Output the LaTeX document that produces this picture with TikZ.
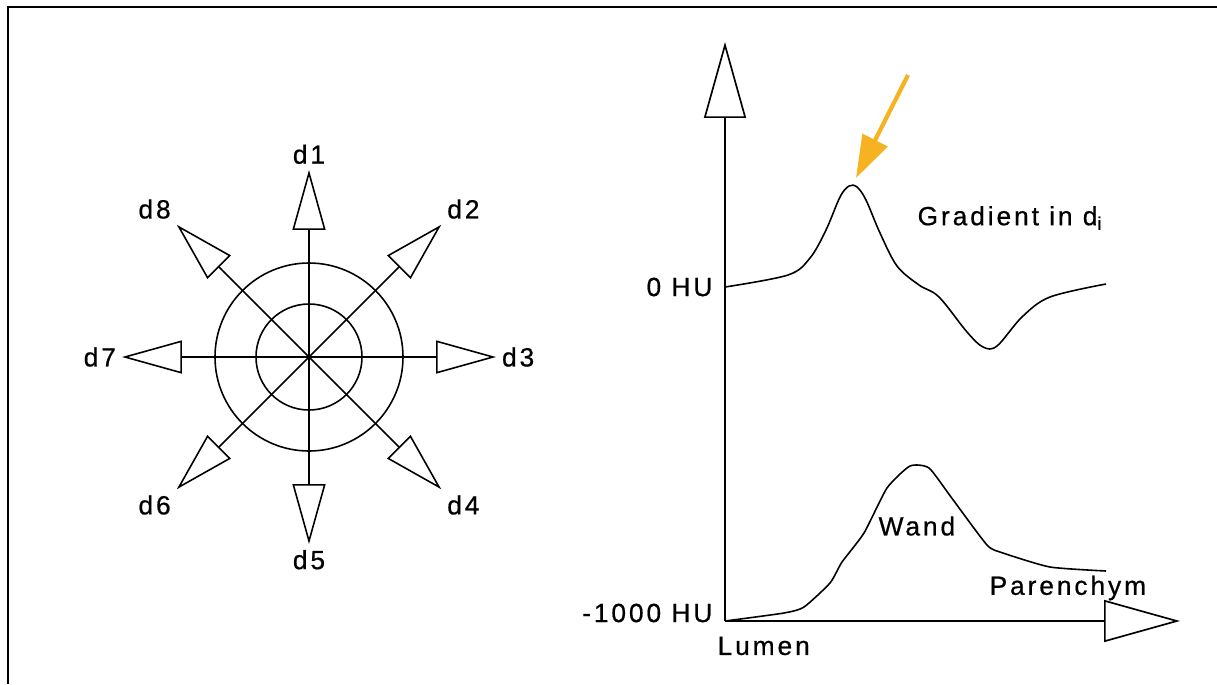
\documentclass[tikz,border=0pt]{standalone}
\usepackage{fontspec}
\setmainfont{Liberation Sans}[LetterSpace=11, FakeBold=0.6]
\usetikzlibrary{arrows.meta,calc}

\definecolor{markorange}{RGB}{246,178,32}

\begin{document}
\begin{tikzpicture}[x=0.02cm, y=-0.02cm,
    lbl/.style={inner sep=3pt, font=\fontsize{15}{18}\selectfont},
    dirarrow/.style={line width=0.9pt, -{Triangle[open, length=1.2cm, width=0.66cm]}},
    axisarrow/.style={line width=0.95pt, -{Triangle[open, length=1.52cm, width=0.84cm]}},
    curve/.style={line width=0.9pt, smooth, tension=0.55}]
            \useasboundingbox (0,0) rectangle (1217,684);
            \draw[line width=1.4pt] (8,684) -- (8,7) -- (1217,7);

            % directions
            \coordinate (C) at (309,357);
            \draw[line width=0.9pt] (C) circle (94);
            \draw[line width=0.9pt] (C) circle (53);
            \foreach \a/\d/\anc in {-90/1/south, -45/2/south west, 0/3/west, 45/4/north west,
                                    90/5/north, 135/6/north east, 180/7/east, 225/8/south east} {
                \draw[dirarrow] (C) -- ++(\a:187) coordinate (t\d)
                    node[lbl, anchor=\anc] (d\d) {d\d};
            }

            % profiles
            \coordinate (O) at (725,621);
            \coordinate (Ytop) at (725,42);
            \coordinate (Xend) at (1180,621);
            \draw[axisarrow] (O) -- (Ytop);
            \draw[axisarrow] (O) -- (Xend);

            \draw[curve] plot coordinates {(725,287) (788,275) (810,258) (826,230) (840,197)
                (849,186) (857,187) (866,200) (880,233) (897,266) (919,285) (939,297)
                (967,332) (983,347) (997,346) (1022,317) (1050,297) (1106,284)};
            \draw[curve, tension=0.35] plot coordinates {(725,621) (784,613) (804,607) (830,583)
                (842,562) (864,533) (887,488) (910,466) (929,468) (951,497) (987,545)
                (1003,553) (1050,567) (1106,571)};

            \coordinate (Pk) at (856,178);
            \coordinate (Ptail) at (908,75);
            \draw[markorange, line width=2.4pt, -{Triangle[length=0.85cm, width=0.55cm]}] (Ptail) -- (Pk);

            \node[lbl, anchor=east] (zero) at (718,287) {0 HU};
            \node[lbl, anchor=east] (minus) at (718,613) {-1000 HU};
            \node[lbl, anchor=west] (lumen) at (712,646) {Lumen};
            \node[lbl, anchor=west] (par) at (984,588) {Parenchym};
            \node[lbl, anchor=west] (wand) at (873,526) {Wand};
            \node[lbl, anchor=west] (grad) at (912,218) {Gradient in d\textsubscript{i}};
        \end{tikzpicture}
\end{document}
